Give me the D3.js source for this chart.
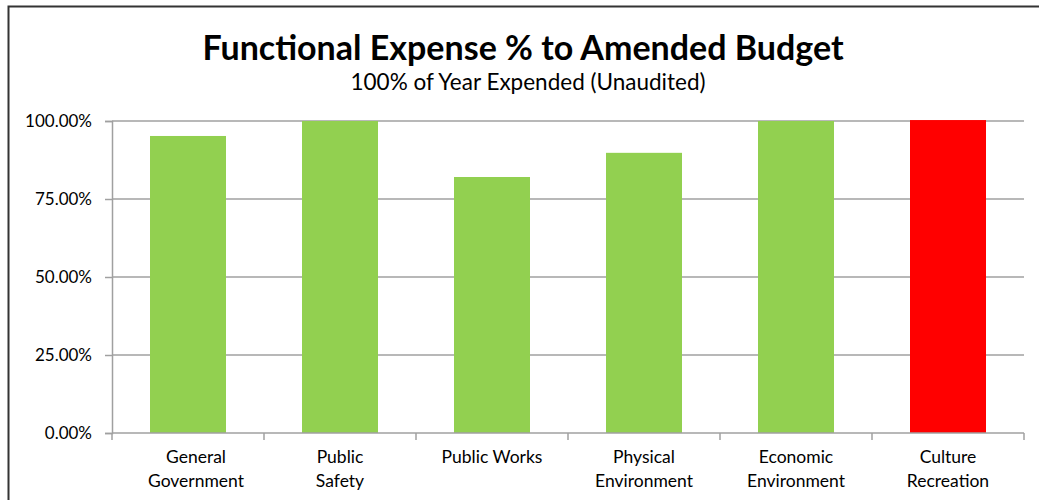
<!DOCTYPE html>
<html>
<head>
<meta charset="utf-8">
<script src="https://cdn.jsdelivr.net/npm/d3@7"></script>
<style>
body { margin: 0; background: #fff; }
svg text { font-family: Lato, "Open Sans", sans-serif; fill: #000; }
</style>
</head>
<body>
<div id="chart"></div>
<script>
var categories = ["General Government", "Public Safety", "Public Works", "Physical Environment", "Economic Environment", "Culture Recreation"];
var labelLines = [["General", "Government"], ["Public", "Safety"], ["Public Works"], ["Physical", "Environment"], ["Economic", "Environment"], ["Culture", "Recreation"]];
var values = [0.952, 1.0, 0.8205, 0.898, 1.0, 1.003];
var barColors = ["#92D050", "#92D050", "#92D050", "#92D050", "#92D050", "#FF0000"];
var yTicks = [0, 0.25, 0.5, 0.75, 1.0];

var width = 1039, height = 500;
var m = {left: 112, right: 15, top: 121, bottom: 67};

var svg = d3.select("#chart").append("svg")
	.attr("width", width)
	.attr("height", height);

// outer frame
svg.append("rect")
	.attr("x", 8.5).attr("y", 6.5)
	.attr("width", width + 10).attr("height", height + 10)
	.attr("fill", "none")
	.attr("stroke", "#333")
	.attr("stroke-width", 2);

svg.append("text")
	.attr("x", 523).attr("y", 60)
	.attr("text-anchor", "middle")
	.style("font-size", "34px")
	.style("font-weight", "bold")
	.text("Functional Expense % to Amended Budget");

svg.append("text")
	.attr("x", 528).attr("y", 90)
	.attr("text-anchor", "middle")
	.style("font-size", "22.5px")
	.text("100% of Year Expended (Unaudited)");

var x = d3.scaleBand()
	.domain(categories)
	.range([m.left, width - m.right])
	.paddingInner(0.5)
	.paddingOuter(0.25);

var y = d3.scaleLinear()
	.domain([0, 1])
	.range([height - m.bottom, m.top]);

// gridlines
svg.append("g")
	.selectAll("line")
	.data(yTicks.filter(function (d) { return d > 0; }))
	.enter().append("line")
	.attr("x1", m.left).attr("x2", width - m.right)
	.attr("y1", function (d) { return y(d); })
	.attr("y2", function (d) { return y(d); })
	.attr("stroke", "#A0A0A0")
	.attr("stroke-width", 1.5);

// bars
svg.append("g")
	.selectAll("rect")
	.data(values)
	.enter().append("rect")
	.attr("x", function (d, i) { return x(categories[i]); })
	.attr("y", function (d) { return y(d); })
	.attr("width", x.bandwidth())
	.attr("height", function (d) { return y(0) - y(d); })
	.attr("fill", function (d, i) { return barColors[i]; });

// y axis
var yAxis = svg.append("g")
	.attr("transform", "translate(" + m.left + ",0)")
	.call(d3.axisLeft(y).tickValues(yTicks).tickFormat(d3.format(".2%")).tickSize(7).tickPadding(13));
yAxis.selectAll("text").style("font-size", "17px").style("font-family", "Lato, 'Open Sans', sans-serif");
yAxis.selectAll("line, path").attr("stroke", "#A0A0A0").attr("stroke-width", 1.5);

// x axis
var step = x.step();
var bounds = d3.range(categories.length + 1).map(function (i) { return m.left + i * step; });
svg.append("line")
	.attr("x1", m.left).attr("x2", width - m.right)
	.attr("y1", y(0)).attr("y2", y(0))
	.attr("stroke", "#A0A0A0").attr("stroke-width", 1.5);
svg.append("g")
	.selectAll("line")
	.data(bounds)
	.enter().append("line")
	.attr("x1", function (d) { return d; }).attr("x2", function (d) { return d; })
	.attr("y1", y(0)).attr("y2", y(0) + 7)
	.attr("stroke", "#A0A0A0").attr("stroke-width", 1.5);

var lab = svg.append("g")
	.selectAll("text")
	.data(categories)
	.enter().append("text")
	.attr("text-anchor", "middle")
	.style("font-size", "17.5px")
	.attr("x", function (d) { return x(d) + x.bandwidth() / 2; })
	.attr("y", y(0) + 30);
lab.each(function (d, i) {
	var t = d3.select(this);
	labelLines[i].forEach(function (s, k) {
		t.append("tspan")
			.attr("x", x(d) + x.bandwidth() / 2 + (i == 0 ? 8 : 0))
			.attr("dy", k == 0 ? 0 : 24)
			.text(s);
	});
});
</script>
</body>
</html>
